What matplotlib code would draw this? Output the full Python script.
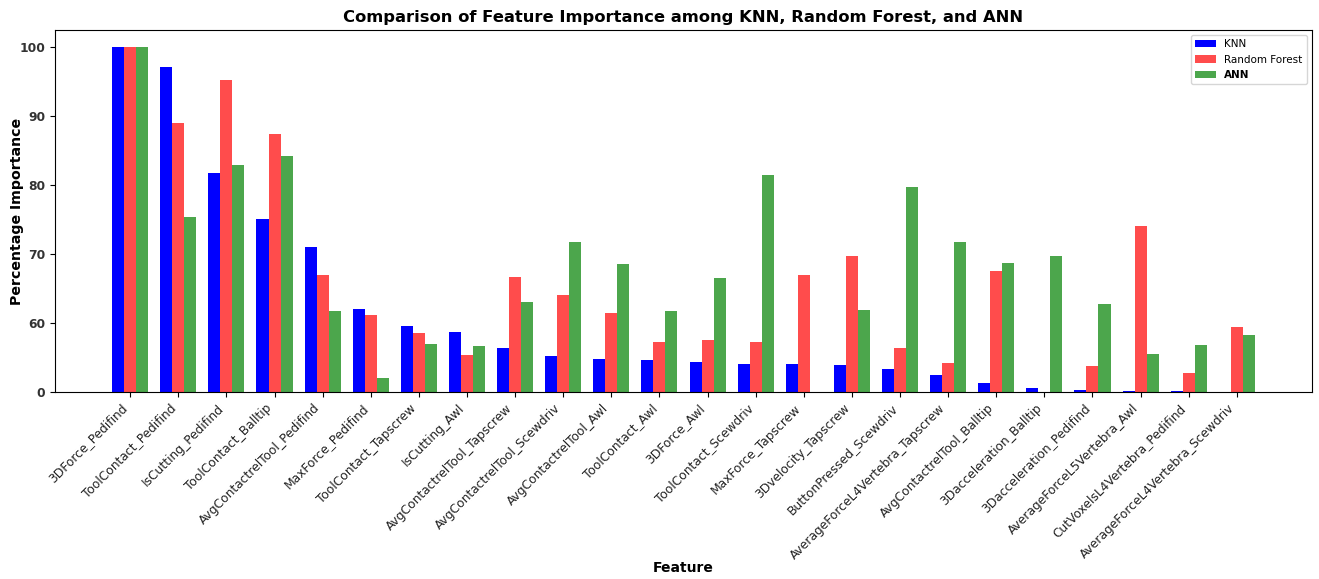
import matplotlib
matplotlib.use("Agg")
import matplotlib.pyplot as plt
import numpy as np

features = ["3DForce_Pedifind", "ToolContact_Pedifind", "IsCutting_Pedifind", "ToolContact_Balltip",
            "AvgContactrelTool_Pedifind", "MaxForce_Pedifind", "ToolContact_Tapscrew", "IsCutting_Awl",
            "AvgContactrelTool_Tapscrew", "AvgContactrelTool_Scewdriv", "AvgContactrelTool_Awl",
            "ToolContact_Awl", "3DForce_Awl", "ToolContact_Scewdriv", "MaxForce_Tapscrew",
            "3Dvelocity_Tapscrew", "ButtonPressed_Scewdriv", "AverageForceL4Vertebra_Tapscrew",
            "AvgContactrelTool_Balltip", "3Dacceleration_Balltip", "3Dacceleration_Pedifind",
            "AverageForceL5Vertebra_Awl", "CutVoxelsL4Vertebra_Pedifind", "AverageForceL4Vertebra_Scewdriv"]

knn = [100, 97.2, 81.7, 75.1, 71.1, 62.0, 59.6, 58.75, 56.4, 55.2, 54.8, 54.6, 54.3, 54.1, 54.1,
       53.9, 53.4, 52.5, 51.25, 50.6, 50.33, 50.15, 50.1, 0]
rf = [100, 89.0, 95.2, 87.5, 66.9, 61.1, 58.5, 55.3, 66.7, 64.1, 61.5, 57.2, 57.5, 57.2, 66.9,
      69.7, 56.4, 54.2, 67.5, 0, 53.8, 74.06, 52.75, 59.46]
ann = [100, 75.4, 82.9, 84.3, 61.7, 52.1, 57.0, 56.6, 63.1, 71.7, 68.5, 61.8, 66.5, 81.5, 0,
       61.9, 79.7, 71.7, 68.7, 69.75, 62.75, 55.5, 56.8, 58.3]

ytick_vals = [50, 60, 70, 80, 90, 100]
ytick_labels = ["0", "60", "70", "80", "90", "100"]

fig = plt.figure(figsize=(13.19, 5.79), dpi=100)
ax = fig.add_axes([0.0417, 0.323, 0.953, 0.625])

x = np.arange(len(features))
w = 0.25
ax.bar(x - w, knn, w, color="blue", label="KNN")
ax.bar(x, rf, w, color="red", alpha=0.7, label="Random Forest")
ax.bar(x + w, ann, w, color="green", alpha=0.7, label="ANN")

ax.set_xlim(-1.5625, len(features) - 1 + 1.5625)
ax.set_ylim(50, 102.5)
ax.set_yticks(ytick_vals)
ax.set_yticklabels(ytick_labels, fontweight="bold", fontsize=8.8, color="#333333")
ax.set_xticks(x)
ax.set_xticklabels(features, rotation=45, ha="right", fontsize=8.8, color="#222222")

ax.set_title("Comparison of Feature Importance among KNN, Random Forest, and ANN",
             fontweight="bold", fontsize=11.8)
ax.set_xlabel("Feature", fontweight="bold", fontsize=10)
ax.set_ylabel("Percentage Importance", fontweight="bold", fontsize=10.2)
ax.yaxis.set_label_coords(-0.025, 0.5)
ax.xaxis.set_label_coords(0.4996, -0.467)

leg = ax.legend(loc="upper right", fontsize=7.5)
leg.get_texts()[2].set_fontweight("bold")

fig.savefig("out.png", dpi=100)
